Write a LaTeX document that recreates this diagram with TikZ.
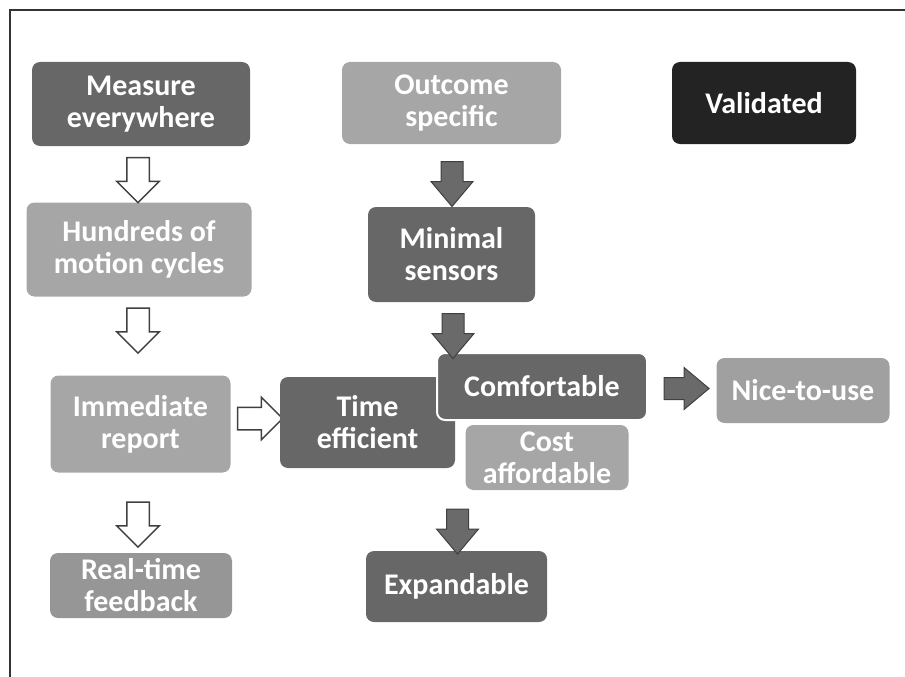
\documentclass[tikz,border=0pt]{standalone}
\usepackage{fontspec}
\setmainfont{Carlito}
\usepackage{tikz}
\usetikzlibrary{shapes.arrows}
\definecolor{darkbox}{HTML}{676767}
\definecolor{lightbox}{HTML}{A6A6A6}
\definecolor{midbox}{HTML}{969696}
\definecolor{nicebox}{HTML}{A0A0A0}
\definecolor{blackbox}{HTML}{232323}
\definecolor{arrowfill}{HTML}{6A6A6A}
\definecolor{arrowline}{HTML}{404040}
\definecolor{frameline}{HTML}{333333}
\newcommand{\boxfont}{\fontsize{30}{32}\selectfont\bfseries}
\tikzset{ box/.style={rounded corners=8pt,align=center,text=white,font=\boxfont,inner sep=0pt},
  dark/.style={box,fill=darkbox}, light/.style={box,fill=lightbox},
  blockarrow/.style={single arrow,inner sep=10.5pt,text height=0pt,text depth=0pt,text width=0pt,
    minimum height=45pt,single arrow head extend=10pt},
  hollow/.style={blockarrow,draw=arrowline,fill=white,line width=1.5pt},
  solid/.style={blockarrow,single arrow tip angle=80,draw=arrowline,fill=arrowfill,line width=1pt},
  down/.style={shape border rotate=270} }

\begin{document}
\begin{tikzpicture}[x=1pt,y=-1pt]
   \useasboundingbox (0,0) rectangle (905,677);
   \draw[frameline,line width=1.5pt] (10,677) -- (10,10) -- (905,10);
   % left column
   \node[dark,minimum width=218pt,minimum height=84pt] (meas) at (141,104) {Measure\\everywhere};
   \node[light,minimum width=225pt,minimum height=94pt] (hund) at (139,249.5) {Hundreds of\\motion cycles};
   \node[light,minimum width=180pt,minimum height=97pt] (imm) at (140.5,424) {Immediate\\report};
   \node[box,fill=midbox,minimum width=182pt,minimum height=65pt] (real) at (141,585.5) {Real-time\\feedback};
   \node[hollow,down] (ha) at (138,174.5) {};
   \node[hollow,down] (hb) at (138,325) {};
   \node[hollow,down] (hc) at (138,519) {};
   \node[hollow] (hd) at (254.5,418.5) {};
   % middle column
   \node[light,minimum width=219pt,minimum height=82pt] (outc) at (451.5,103) {Outcome\\specific};
   \node[dark,minimum width=167pt,minimum height=95pt] (mini) at (451.5,254.5) {Minimal\\sensors};
   \node[dark,minimum width=175pt,minimum height=91pt] (time) at (367.5,422.5) {Time\\efficient};
   \node[dark,draw=white,line width=2pt,minimum width=210pt,minimum height=67pt] (comf) at (542,386.5) {Comfortable};
   \node[light,minimum width=163pt,minimum height=65pt] (cost) at (547,457.5) {Cost\\affordable};
   \node[dark,minimum width=181pt,minimum height=71pt] (expa) at (456.5,586.5) {Expandable};
   \node[solid,down] (fa) at (452,177.5) {};
   \node[solid,down] (fb) at (453,329.5) {};
   \node[solid,down] (fc) at (457.5,525) {};
   \node[solid] (fd) at (680,388.5) {};
   % right column
   \node[box,fill=blackbox,minimum width=184pt,minimum height=82pt] (valid) at (764,103) {Validated};
   \node[box,fill=nicebox,minimum width=173pt,minimum height=65pt] (nice) at (803,390.5) {Nice-to-use};
  \end{tikzpicture}
\end{document}
